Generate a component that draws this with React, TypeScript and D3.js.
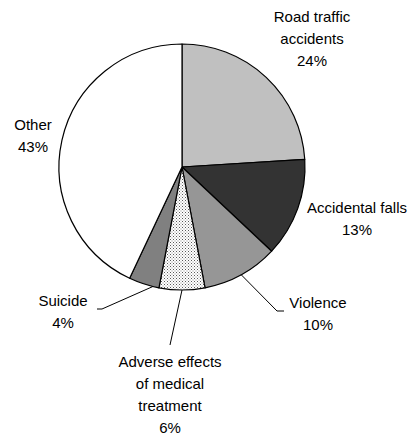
import React from "react";
import * as d3 from "d3";

const categories = [
  "Road traffic accidents",
  "Accidental falls",
  "Violence",
  "Adverse effects of medical treatment",
  "Suicide",
  "Other",
];
const shares = [24, 13, 10, 6, 4, 43];
const fills = ["#c0c0c0", "#333333", "#969696", "url(#dots)", "#808080", "#ffffff"];
const labelLines = [
  ["Road traffic", "accidents", "24%"],
  ["Accidental falls", "13%"],
  ["Violence", "10%"],
  ["Adverse effects", "of medical", "treatment", "6%"],
  ["Suicide", "4%"],
  ["Other", "43%"],
];
// label anchor (centre x, first line y)
const labelPos: [number, number][] = [
  [312, 16],
  [357, 207],
  [318, 302],
  [170, 361],
  [63, 300],
  [33, 124],
];
// leader lines: where along the slice's arc they leave (0..1), then bend/end points
const leaderAt = [0.5, 0.5, 0.5, 0.5, 0.2, 0.5];
const leaders: ([number, number][] | null)[] = [
  null,
  null,
  [[277, 311], [284, 311]],
  [[170, 345]],
  [[102, 309], [97, 309]],
  null,
];

const W = 415;
const H = 438;
const cx = 182;
const cy = 167;
const R = 123;
const lineH = 22;

export default function App() {
  const pie = d3
    .pie<number>()
    .sort(null)
    .value((d) => d);
  const arcs = pie(shares);
  const arcGen = d3.arc<d3.PieArcDatum<number>>().innerRadius(0).outerRadius(R);

  return (
    <svg width={W} height={H} style={{ position: "absolute", left: 0, top: 0 }}>
      <defs>
        <pattern id="dots" width={3} height={3} patternUnits="userSpaceOnUse">
          <rect width={3} height={3} fill="#ffffff" />
          <rect x={0} y={0} width={1} height={1} fill="#5a5a5a" />
          <rect x={1.5} y={1.5} width={1} height={1} fill="#8a8a8a" />
        </pattern>
      </defs>
      <g transform={`translate(${cx},${cy})`}>
        {arcs.map((a, i) => (
          <path
            key={categories[i]}
            d={arcGen(a) || ""}
            fill={fills[i]}
            stroke="#000"
            strokeWidth={1.2}
            strokeLinejoin="round"
          />
        ))}
      </g>
      {arcs.map((a, i) => {
        const pts = leaders[i];
        if (!pts) return null;
        const ang = a.startAngle + (a.endAngle - a.startAngle) * leaderAt[i];
        const sx = cx + Math.sin(ang) * R;
        const sy = cy - Math.cos(ang) * R;
        const d = d3.line()([[sx, sy], ...pts]) || "";
        return <path key={"l" + i} d={d} fill="none" stroke="#000" strokeWidth={1} />;
      })}
      {labelLines.map((lines, i) => (
        <text
          key={"t" + i}
          x={labelPos[i][0]}
          y={labelPos[i][1]}
          textAnchor="middle"
          dominantBaseline="central"
          fontFamily="'Liberation Sans', Arial, sans-serif"
          fontSize={15}
          fill="#000"
        >
          {lines.map((ln, j) => (
            <tspan key={j} x={labelPos[i][0]} y={labelPos[i][1] + j * lineH}>
              {ln}
            </tspan>
          ))}
        </text>
      ))}
    </svg>
  );
}
